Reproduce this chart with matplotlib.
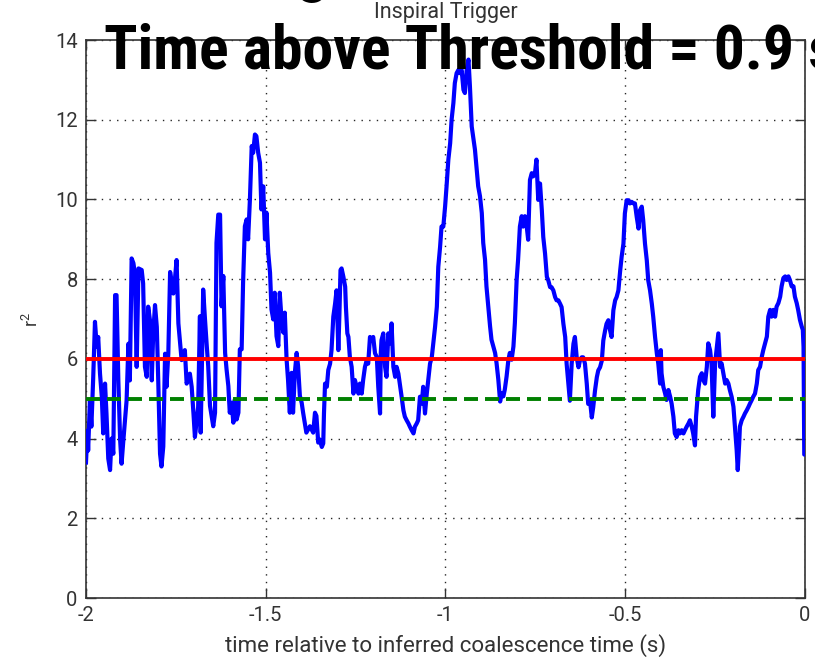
import matplotlib
matplotlib.use("Agg")
import matplotlib.pyplot as plt
from matplotlib import font_manager

# r^2 time series of the trigger, (time in s, r^2)
t_vals = [
    -2.000, -1.996, -1.994, -1.989, -1.985, -1.980, -1.975, -1.970, -1.966, -1.961,
    -1.956, -1.952, -1.947, -1.943, -1.938, -1.933, -1.929, -1.924, -1.919, -1.915,
    -1.910, -1.905, -1.901, -1.896, -1.887, -1.882, -1.878, -1.873, -1.868, -1.864,
    -1.859, -1.854, -1.845, -1.841, -1.836, -1.831, -1.827, -1.822, -1.817, -1.813,
    -1.808, -1.803, -1.799, -1.794, -1.790, -1.785, -1.780, -1.776, -1.771, -1.766,
    -1.757, -1.752, -1.748, -1.743, -1.739, -1.734, -1.725, -1.720, -1.711, -1.706,
    -1.701, -1.697, -1.692, -1.688,
    -1.683, -1.681, -1.678, -1.674, -1.669, -1.664, -1.660, -1.655, -1.646, -1.641,
    -1.637, -1.632, -1.627, -1.623, -1.618, -1.613, -1.609, -1.604, -1.600, -1.595,
    -1.590, -1.586, -1.581, -1.576, -1.572, -1.567, -1.563, -1.558, -1.553, -1.549,
    -1.544, -1.539, -1.535, -1.530, -1.526, -1.521, -1.516, -1.512, -1.507, -1.502,
    -1.498, -1.493, -1.488, -1.484, -1.479, -1.475, -1.470, -1.465, -1.461, -1.456,
    -1.451, -1.447, -1.442, -1.438, -1.433, -1.428, -1.424, -1.419, -1.414, -1.410,
    -1.405, -1.400, -1.396, -1.387, -1.377, -1.368, -1.363, -1.359, -1.354, -1.350,
    -1.344, -1.340, -1.338, -1.335, -1.330, -1.326, -1.321, -1.317, -1.312, -1.307,
    -1.303, -1.298, -1.295, -1.292, -1.289, -1.284, -1.279, -1.277, -1.273, -1.270,
    -1.266, -1.261, -1.256, -1.252, -1.247, -1.242, -1.238, -1.233, -1.229, -1.224,
    -1.219, -1.215, -1.210, -1.205, -1.201, -1.196, -1.191, -1.187, -1.182, -1.180,
    -1.178, -1.173, -1.168, -1.164, -1.159, -1.154, -1.150, -1.145, -1.140, -1.136,
    -1.131, -1.127, -1.122, -1.117, -1.113, -1.108, -1.103, -1.099, -1.094, -1.089,
    -1.085, -1.080, -1.076, -1.071, -1.066, -1.062, -1.057, -1.052, -1.048, -1.043,
    -1.038, -1.034, -1.029, -1.024, -1.020, -1.015,
    -1.011, -1.006, -1.001, -0.997, -0.992, -0.987, -0.983, -0.978, -0.974, -0.969,
    -0.964, -0.960, -0.955, -0.950, -0.946, -0.941, -0.936, -0.932, -0.927, -0.923,
    -0.918, -0.913, -0.909, -0.904, -0.899, -0.895, -0.890, -0.886, -0.881, -0.876,
    -0.872, -0.867, -0.862, -0.858, -0.853, -0.848, -0.844, -0.839, -0.835, -0.830,
    -0.825, -0.821, -0.816, -0.811, -0.807, -0.802, -0.798, -0.793, -0.788, -0.784,
    -0.779, -0.774, -0.770, -0.765, -0.760, -0.756, -0.751, -0.747, -0.742,
    -0.737, -0.732, -0.728, -0.723, -0.718, -0.714, -0.709, -0.705, -0.700, -0.695,
    -0.691, -0.686, -0.681, -0.677, -0.672, -0.667, -0.663, -0.658, -0.654, -0.649,
    -0.644, -0.640, -0.635, -0.630, -0.626, -0.621, -0.617, -0.612, -0.607, -0.603,
    -0.598, -0.593, -0.589, -0.584, -0.579, -0.575, -0.570, -0.565, -0.561, -0.556,
    -0.552, -0.547, -0.542, -0.538, -0.533, -0.528, -0.524, -0.519, -0.514, -0.510,
    -0.505, -0.501, -0.496, -0.491, -0.487, -0.482, -0.477, -0.473, -0.468, -0.463,
    -0.459, -0.454, -0.450, -0.445, -0.440, -0.436, -0.431, -0.426, -0.422, -0.417,
    -0.412, -0.408, -0.403,
    -0.401, -0.399, -0.394, -0.389, -0.385, -0.380, -0.375, -0.371, -0.366, -0.362,
    -0.357, -0.352, -0.348, -0.343, -0.338, -0.334, -0.329, -0.324, -0.320, -0.315,
    -0.311, -0.306, -0.303, -0.300, -0.297, -0.292, -0.287, -0.283, -0.278, -0.273,
    -0.269, -0.264, -0.260, -0.255, -0.250, -0.246, -0.241, -0.236, -0.232, -0.227,
    -0.222, -0.218, -0.213, -0.209, -0.204, -0.199, -0.195, -0.190, -0.187, -0.183,
    -0.181, -0.176, -0.171, -0.167, -0.162, -0.157, -0.153, -0.148, -0.144, -0.139,
    -0.134, -0.130, -0.125, -0.120, -0.116, -0.111, -0.106, -0.102, -0.097, -0.093,
    -0.088, -0.083, -0.079, -0.074, -0.069, -0.065, -0.060, -0.055, -0.051, -0.046,
    -0.042, -0.037, -0.032, -0.028, -0.023, -0.019, -0.014, -0.009, -0.006, -0.004,
    -0.002, 0.000,
]
r2_vals = [
    3.40, 4.20, 3.70, 4.96, 4.30, 5.50, 6.93, 6.30, 6.55, 5.63,
    5.05, 4.13, 5.38, 4.63, 3.50, 3.21, 4.00, 3.62, 7.60, 7.60,
    5.46, 3.96, 3.37, 3.96, 4.96, 6.38, 5.46, 8.52, 8.40, 8.14,
    5.80, 8.27, 8.23, 7.89, 5.80, 5.55, 7.31, 6.97, 5.46, 6.64,
    7.35, 6.80, 5.46, 3.62, 3.30, 3.80, 6.13, 5.30, 6.13, 8.18,
    7.64, 8.06, 8.48, 6.89, 6.47, 5.97, 6.22, 5.38, 5.63, 5.30,
    4.63, 4.04, 4.46, 4.79,
    7.07, 4.15, 5.60, 7.74, 7.00, 6.32, 5.82, 4.82, 4.31, 4.65,
    8.91, 9.62, 9.62, 7.32, 8.08, 6.15, 5.74, 5.32, 4.65, 4.90,
    4.40, 4.98, 4.48, 4.65, 6.24, 6.24, 7.91, 9.33, 9.50, 9.00,
    10.00, 11.34, 11.17, 11.63, 11.59, 11.17, 10.92, 9.75, 10.33, 9.00,
    9.67, 8.66, 8.16, 7.24, 6.99, 7.66, 6.57, 6.32, 7.66, 6.99,
    6.66, 7.16, 5.99, 5.48, 4.65, 5.65, 4.65, 5.65, 6.15, 5.82,
    5.07, 4.90, 4.65, 4.15, 4.31, 4.15, 4.65, 4.57, 3.90, 3.98,
    3.79, 3.88, 4.63, 5.38, 5.30, 5.72, 5.88, 6.22, 7.06, 7.39,
    7.72, 6.22, 7.14, 8.23, 8.27, 8.06, 7.81, 7.31, 6.64, 6.55,
    6.05, 5.80, 5.13, 5.47, 5.30, 5.13, 5.38, 5.13, 5.47, 5.80,
    5.97, 5.88, 6.55, 6.47, 6.55, 6.14, 6.05, 5.30, 4.63, 6.14,
    6.47, 6.64, 5.80, 5.55, 6.64, 6.39, 6.89, 5.80, 5.55, 5.80,
    5.63, 5.38, 5.05, 4.71, 4.55, 4.46, 4.38, 4.30, 4.21, 4.13,
    4.30, 4.38, 4.46, 5.05, 4.88, 5.30, 4.63, 5.13, 5.47, 5.88,
    6.05, 6.39, 6.80, 7.31, 8.31, 8.81,
    9.32, 9.32, 9.83, 10.33, 11.00, 11.41, 12.00, 12.42, 12.92, 13.17,
    13.25, 13.17, 13.25, 12.75, 12.67, 13.25, 13.51, 12.84, 11.83, 11.58,
    11.25, 10.75, 10.33, 10.08, 9.66, 8.91, 8.49, 7.82, 7.32, 6.82,
    6.48, 6.31, 6.15, 5.90, 5.48, 4.93, 5.14, 5.06, 5.23, 5.56,
    5.98, 6.15, 5.98, 6.31, 6.90, 7.99, 8.49, 9.32, 9.58, 9.32,
    9.58, 9.32, 8.99, 10.49, 10.66, 10.58, 10.66, 11.00, 9.99,
    10.40, 9.73, 9.06, 8.64, 8.06, 7.97, 7.80, 7.80, 7.72, 7.55,
    7.47, 7.47, 7.38, 7.30, 6.88, 6.55, 5.88, 5.38, 4.95, 5.88,
    6.38, 6.55, 6.04, 5.79, 5.96, 6.04, 6.04, 5.88, 5.38, 4.87,
    4.95, 4.53, 4.79, 5.21, 5.54, 5.71, 5.79, 5.96, 6.46, 6.71,
    6.88, 6.97, 6.71, 6.55, 7.22, 7.47, 7.55, 7.72, 8.22, 8.56,
    8.89, 9.65, 9.98, 9.98, 9.90, 9.94, 9.90, 9.90, 9.56, 9.27,
    9.73, 9.82, 9.48, 8.89, 8.47, 7.97, 7.72, 7.38, 7.05, 6.55,
    6.13, 5.88, 5.38,
    6.22, 5.64, 5.30, 5.13, 4.97, 5.22, 5.05, 4.88, 4.55, 4.13,
    4.04, 4.21, 4.13, 4.21, 4.13, 4.21, 4.30, 4.38, 4.46, 4.30,
    4.13, 3.83, 4.55, 4.88, 5.22, 5.55, 5.64, 5.47, 5.38, 5.80,
    6.39, 6.22, 5.89, 4.55, 5.89, 6.22, 6.64, 5.80, 5.89, 5.64,
    5.38, 5.47, 5.38, 5.22, 5.05, 4.80, 4.30, 3.71, 3.21, 3.88,
    4.30, 4.46, 4.55, 4.63, 4.71, 4.80, 4.88, 4.97, 5.05, 5.13,
    5.38, 5.72, 5.80, 6.06, 6.22, 6.39, 6.56, 7.06, 7.23, 7.06,
    7.23, 7.06, 7.31, 7.40, 7.56, 7.82, 8.03, 8.07, 7.98, 8.07,
    7.98, 7.82, 7.82, 7.56, 7.40, 7.23, 6.98, 6.81, 6.73, 6.30,
    3.60, 3.60,
]

threshold = 6.0
lower_level = 5.0
time_above = 0.9

x_ticks = [-2, -1.5, -1, -0.5, 0]
x_ticklabels = ["-2", "-1.5", "-1", "-0.5", "0"]
y_ticks = [0, 2, 4, 6, 8, 10, 12, 14]

# axis text in Roboto, the big banner in a condensed face if one is around
names = set(f.name for f in font_manager.fontManager.ttflist)
narrow = [n for n in ["Roboto Condensed", "Liberation Sans Narrow", "Arial Narrow",
                      "Open Sans Condensed"] if n in names]
plt.rcParams['font.family'] = ['Roboto', 'DejaVu Sans']
plt.rcParams['mathtext.default'] = 'regular'
banner_font = narrow + ['DejaVu Sans']

fig = plt.figure(figsize=(8.15, 6.63), dpi=100)
ax = fig.add_axes([0.1055, 0.098, 0.8822, 0.8416])

ax.plot(t_vals, r2_vals, color=(0, 0, 1), lw=3.0, zorder=3)
ax.axhline(threshold, color=(1, 0, 0), lw=2.8, zorder=4)
ax.axhline(lower_level, color=(0, 0.5, 0), lw=2.8, ls=(0, (3.6, 1.8)), zorder=4)

ax.set_xlim(-2, 0)
ax.set_ylim(0, 14)
ax.set_xticks(x_ticks)
ax.set_xticklabels(x_ticklabels)
ax.set_yticks(y_ticks)

ax.grid(True, color='0.15', ls=(0, (1, 4.5)), lw=1.0, zorder=1)
ax.set_axisbelow(True)
ax.tick_params(direction='in', length=7, width=1, top=True, right=True,
               labelsize=14.5, labelcolor='0.2', color='0.2', pad=6)
for s in ax.spines.values():
    s.set_color('0.2')
    s.set_linewidth(1.2)

ax.set_xlabel("time relative to inferred coalescence time (s)", fontsize=16,
              color='0.2', labelpad=6)
ax.set_ylabel("r$^2$", fontsize=13, color='0.2', labelpad=9)
ax.set_title("Inspiral Trigger", fontsize=15.5, color='0.2', pad=16)

fig.text(0.127, 0.896, "Time above Threshold = %.1f s" % time_above,
         family=banner_font, fontweight='bold', fontsize=44.5, color='black',
         ha='left', va='baseline')
fig.text(0.383, 1.014, "g", family=banner_font, fontweight='bold', fontsize=44.5,
         color='black', ha='center', va='baseline')

fig.savefig("out.png", dpi=100)
